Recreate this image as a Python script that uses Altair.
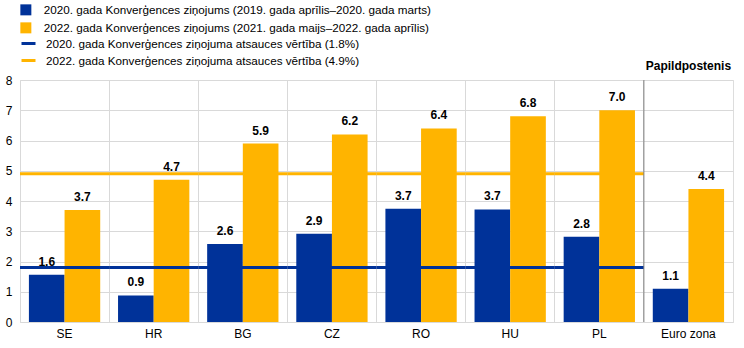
import altair as alt
import pandas as pd

cats = ["SE", "HR", "BG", "CZ", "RO", "HU", "PL", "Euro zona"]
v2020 = [1.56, 0.88, 2.58, 2.92, 3.74, 3.72, 2.82, 1.1]
v2022 = [3.7, 4.7, 5.9, 6.2, 6.4, 6.8, 7.0, 4.4]
series = [
    "2020. gada Konverģences ziņojums (2019. gada aprīlis–2020. gada marts)",
    "2022. gada Konverģences ziņojums (2021. gada maijs–2022. gada aprīlis)",
]
ref_names = [
    "2020. gada Konverģences ziņojuma atsauces vērtība (1.8%)",
    "2022. gada Konverģences ziņojuma atsauces vērtība (4.9%)",
]
ref_values = [1.8, 4.9]
ref_cats = cats[:-1]
y_ticks = [0, 1, 2, 3, 4, 5, 6, 7, 8]
memo_cat = "Euro zona"
memo_label = "Papildpostenis"

BLUE = "#003299"
YELLOW = "#FFB400"
FONT = "Liberation Sans"
LEG_FS = 11.7

rows = []
for c, a, b in zip(cats, v2020, v2022):
    rows.append({"cat": c, "series": series[0], "value": a})
    rows.append({"cat": c, "series": series[1], "value": b})
df = pd.DataFrame(rows)

ref_rows = []
for name, v in zip(ref_names, ref_values):
    for c in ref_cats:
        ref_rows.append({"cat": c, "ref": name, "refv": v})
ref_df = pd.DataFrame(ref_rows)

xaxis = alt.Axis(
    title=None, labelAngle=0, ticks=False, domain=False, grid=True,
    bandPosition=0, gridColor="#d9d9d9", labelFontSize=12,
    labelColor="#000000", labelPadding=6, labelFont=FONT,
)
xscale = alt.Scale(paddingInner=0, paddingOuter=0)
yaxis = alt.Axis(
    title=None, values=y_ticks, ticks=False, domain=False, grid=True,
    gridColor="#d9d9d9", labelFontSize=12, labelColor="#000000",
    labelPadding=8, labelFont=FONT,
)
yscale = alt.Scale(domain=[0, 8])


def X():
    return alt.X("cat:N", sort=cats, scale=xscale, axis=xaxis)


xoff = alt.XOffset(
    "series:N", sort=series,
    scale=alt.Scale(paddingOuter=0.25, paddingInner=0),
)

base = alt.Chart(df)

bars = base.mark_bar().encode(
    x=X(),
    xOffset=xoff,
    y=alt.Y("value:Q", scale=yscale, axis=yaxis),
    color=alt.Color(
        "series:N",
        sort=series,
        scale=alt.Scale(domain=series, range=[BLUE, YELLOW]),
        legend=alt.Legend(
            title=None, orient="none", legendX=0, legendY=-76,
            symbolType="square", symbolSize=121, labelFontSize=LEG_FS,
            labelFont=FONT, labelColor="#000000", labelOffset=12,
            rowPadding=5, labelLimit=600, symbolStrokeWidth=0,
        ),
    ),
)

labels = base.mark_text(
    fontWeight="bold", fontSize=12, font=FONT, color="#000000",
    baseline="alphabetic", dy=-9,
).encode(
    x=X(),
    xOffset=xoff,
    y=alt.Y("value:Q", scale=yscale, axis=yaxis),
    text=alt.Text("value:Q", format=".1f"),
)

refs = alt.Chart(ref_df).mark_rect(fillOpacity=0, strokeWidth=3).encode(
    x=X(),
    y=alt.Y("refv:Q", scale=yscale, axis=yaxis),
    y2=alt.Y2("refv"),
    stroke=alt.Stroke(
        "ref:N",
        sort=ref_names,
        scale=alt.Scale(domain=ref_names, range=[BLUE, YELLOW]),
        legend=alt.Legend(
            title=None, orient="none", legendX=0, legendY=-45,
            symbolType="stroke", symbolSize=196, symbolStrokeWidth=3,
            labelFontSize=LEG_FS, labelFont=FONT, labelColor="#000000",
            labelOffset=9, rowPadding=1, labelLimit=600,
        ),
    ),
)

sep = alt.Chart(pd.DataFrame({"cat": [memo_cat]})).mark_rule(
    color="#7f7f7f", strokeWidth=1
).encode(x=alt.X("cat:N", sort=cats, scale=xscale, axis=xaxis, bandPosition=0))

memo = alt.Chart(pd.DataFrame({"cat": [memo_cat], "t": [memo_label]})).mark_text(
    fontWeight="bold", fontSize=12, font=FONT, color="#000000", baseline="middle"
).encode(x=X(), y=alt.value(-14), text="t:N")

chart = alt.layer(bars, refs, labels, sep, memo).resolve_legend(
    color="independent", stroke="independent"
).properties(
    width=713, height=242,
    autosize=alt.AutoSizeParams(type="none"),
    padding={"left": 20, "top": 80, "right": 11, "bottom": 26},
).configure_view(stroke="#d9d9d9").configure(font=FONT)

chart.save("out.html", embed_options={"renderer": "svg", "actions": False})
